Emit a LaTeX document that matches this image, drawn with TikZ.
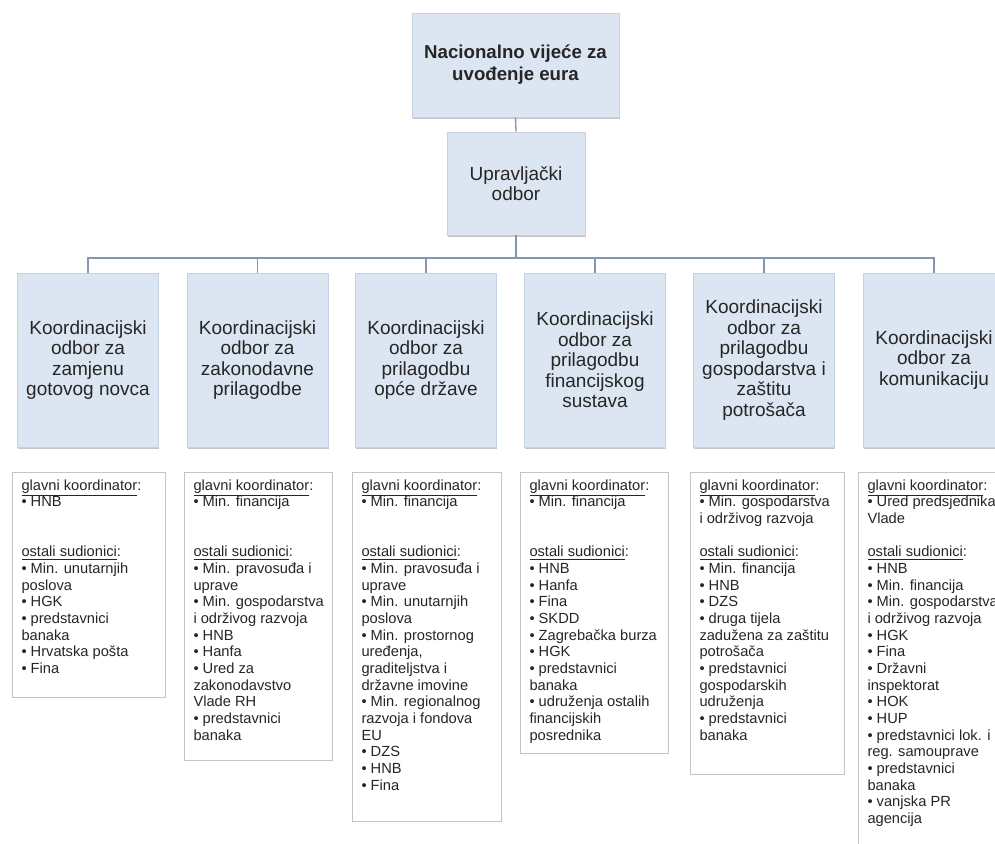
\documentclass[tikz,border=0pt]{standalone}
\usepackage{fontspec}
\setmainfont{Liberation Sans}
\usetikzlibrary{shadows}

\definecolor{odborplava}{HTML}{DCE6F2}
\definecolor{rubplava}{HTML}{C3D1E2}
\definecolor{linijaboja}{HTML}{8497AE}
\definecolor{okvirsiva}{HTML}{C4C4C4}
\definecolor{tekstboja}{HTML}{262626}

\tikzset{every picture/.style={line width=0.75pt}}
\tikzset{
  vrhbox/.style={draw=rubplava, line width=0.5pt, fill=odborplava, text=tekstboja,
    drop shadow={shadow xshift=0.4pt, shadow yshift=-1.6pt, opacity=0.45},
    align=center, inner sep=0pt},
  odborbox/.style={vrhbox, minimum width=105.75pt, minimum height=130.5pt,
    font=\fontsize{14.25}{15.4}\selectfont},
  listbox/.style={draw=okvirsiva, line width=0.6pt, fill=white, anchor=north west, inner sep=0pt},
  listtext/.style={anchor=north west, inner sep=0pt, align=left, text=tekstboja,
    font=\fontsize{11}{12.5}\selectfont},
  veza/.style={draw=linijaboja, line width=1pt}
}

\begin{document}
\begin{tikzpicture}[x=0.75pt,y=0.75pt,yscale=-1,xscale=1]
    \useasboundingbox (0,0) rectangle (995,843);
    \clip (0,0) rectangle (995,843);
    
    %Top level
    \draw (515.5,65) node (nvz) [vrhbox, minimum width=155.25pt, minimum height=78pt,
      font=\bfseries\fontsize{14}{16.5}\selectfont] {Nacionalno vijeće za\\uvođenje eura};
    \draw (516,183.5) node (uo) [vrhbox, minimum width=103.5pt, minimum height=77.25pt,
      font=\fontsize{14.25}{15}\selectfont] {Upravljački\\odbor};
    
    %Coordination committees
    \draw (88,360) node (k1) [odborbox] {Koordinacijski\\odbor za\\zamjenu\\gotovog novca};
    \draw (257.5,360) node (k2) [odborbox] {Koordinacijski\\odbor za\\zakonodavne\\prilagodbe};
    \draw (426,360) node (k3) [odborbox] {Koordinacijski\\odbor za\\prilagodbu\\opće države};
    \draw (595,360) node (k4) [odborbox] {Koordinacijski\\odbor za\\prilagodbu\\financijskog\\sustava};
    \draw (764,360) node (k5) [odborbox] {Koordinacijski\\odbor za\\prilagodbu\\gospodarstva i\\zaštitu\\potrošača};
    \draw (934,360) node (k6) [odborbox] {Koordinacijski\\odbor za\\komunikaciju};
    
    %Straight Lines
    \coordinate (bus) at (516,258);
    \draw [veza] (nvz.south) -- (uo.north);
    \draw [veza] (uo.south) -- (bus);
    \foreach \k in {k1,k2,k3,k4,k5,k6}
      \draw [veza] (bus) -| (\k.north);
    
    %Shape: Rectangle
    \draw (12,472) node (s1) [listbox, minimum width=114.75pt, minimum height=168.75pt] {};
    \draw (184,472) node (s2) [listbox, minimum width=111pt, minimum height=216pt] {};
    \draw (352,472) node (s3) [listbox, minimum width=111.75pt, minimum height=261.75pt] {};
    \draw (520,472) node (s4) [listbox, minimum width=111pt, minimum height=210.75pt] {};
    \draw (690,472) node (s5) [listbox, minimum width=115.5pt, minimum height=226.5pt] {};
    \draw (858,472) node (s6) [listbox, minimum width=112.5pt, minimum height=300pt] {};
    
    % Text Node
    \draw (21,479) node (t1) [listtext] {\underline{glavni koordinator}:\\
      • HNB\\[25pt]
      \underline{ostali sudionici}:\\
      • Min. unutarnjih\\poslova\\
      • HGK\\
      • predstavnici\\banaka\\
      • Hrvatska pošta\\
      • Fina};
    % Text Node
    \draw (193,479) node (t2) [listtext] {\underline{glavni koordinator}:\\
      • Min. financija\\[25pt]
      \underline{ostali sudionici}:\\
      • Min. pravosuđa i\\uprave\\
      • Min. gospodarstva\\i održivog razvoja\\
      • HNB\\
      • Hanfa\\
      • Ured za\\zakonodavstvo\\Vlade RH\\
      • predstavnici\\banaka};
    % Text Node
    \draw (361,479) node (t3) [listtext] {\underline{glavni koordinator}:\\
      • Min. financija\\[25pt]
      \underline{ostali sudionici}:\\
      • Min. pravosuđa i\\uprave\\
      • Min. unutarnjih\\poslova\\
      • Min. prostornog\\uređenja,\\graditeljstva i\\državne imovine\\
      • Min. regionalnog\\razvoja i fondova\\EU\\
      • DZS\\
      • HNB\\
      • Fina};
    % Text Node
    \draw (529,479) node (t4) [listtext] {\underline{glavni koordinator}:\\
      • Min. financija\\[25pt]
      \underline{ostali sudionici}:\\
      • HNB\\
      • Hanfa\\
      • Fina\\
      • SKDD\\
      • Zagrebačka burza\\
      • HGK\\
      • predstavnici\\banaka\\
      • udruženja ostalih\\financijskih\\posrednika};
    % Text Node
    \draw (699,479) node (t5) [listtext] {\underline{glavni koordinator}:\\
      • Min. gospodarstva\\i održivog razvoja\\[12.5pt]
      \underline{ostali sudionici}:\\
      • Min. financija\\
      • HNB\\
      • DZS\\
      • druga tijela\\zadužena za zaštitu\\potrošača\\
      • predstavnici\\gospodarskih\\udruženja\\
      • predstavnici\\banaka};
    % Text Node
    \draw (867,479) node (t6) [listtext] {\underline{glavni koordinator}:\\
      • Ured predsjednika\\Vlade\\[12.5pt]
      \underline{ostali sudionici}:\\
      • HNB\\
      • Min. financija\\
      • Min. gospodarstva\\i održivog razvoja\\
      • HGK\\
      • Fina\\
      • Državni\\inspektorat\\
      • HOK\\
      • HUP\\
      • predstavnici lok. i\\reg. samouprave\\
      • predstavnici\\banaka\\
      • vanjska PR\\agencija};
    
\end{tikzpicture}
\end{document}
